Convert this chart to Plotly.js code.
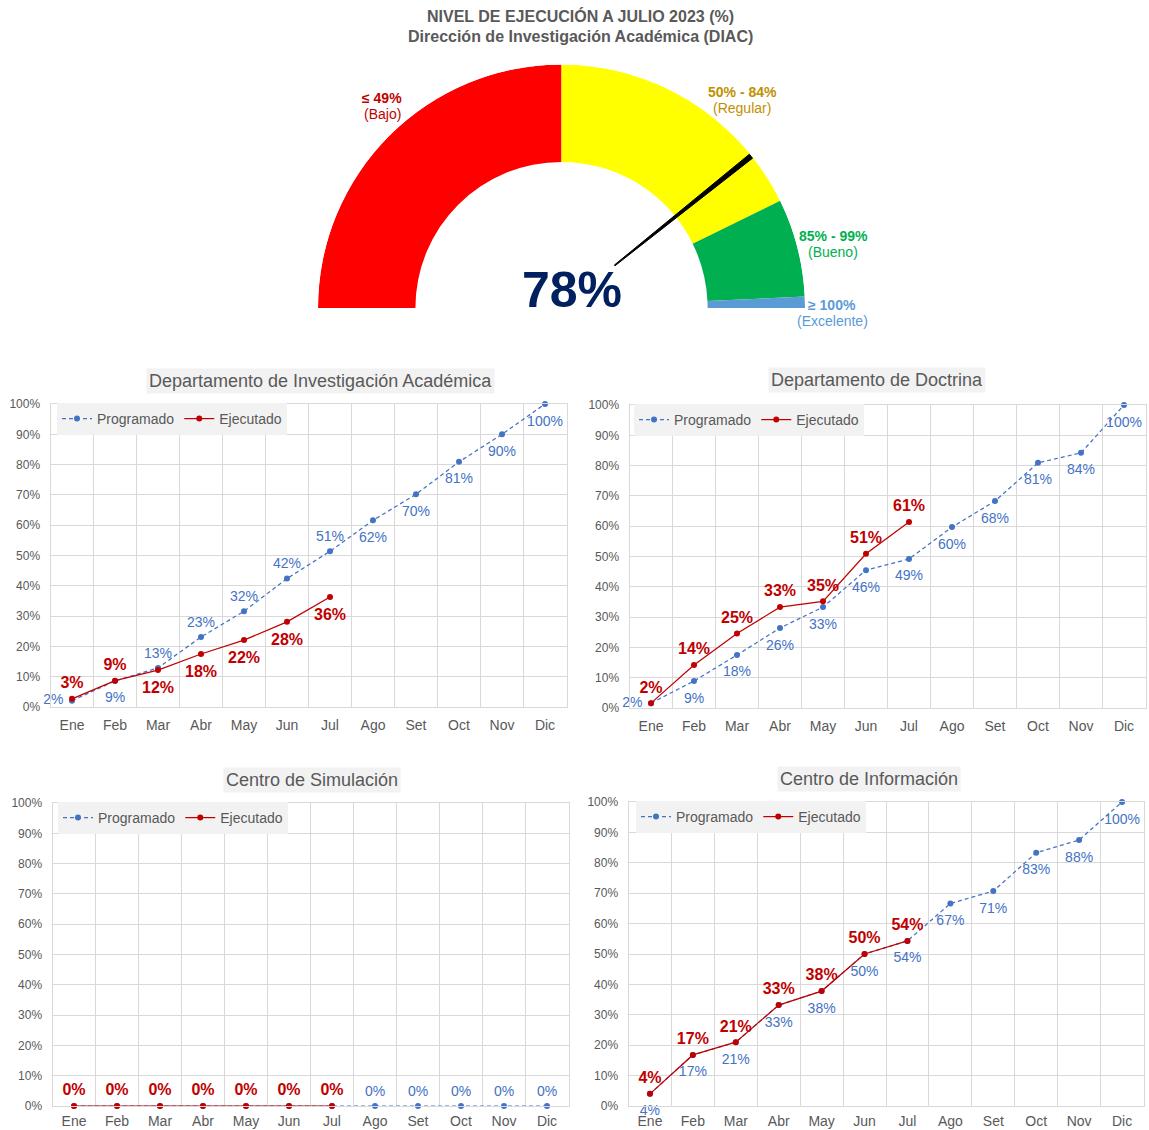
<!DOCTYPE html>
<html>
<head>
<meta charset="utf-8">
<script src="https://cdn.plot.ly/plotly-3.0.1.min.js"></script>
<style>html,body{margin:0;padding:0;background:#fff}#chart{width:1149px;height:1130px}</style>
</head>
<body>
<div id="chart"></div>
<script>
// ---------- DATA ----------
const months = ['Ene','Feb','Mar','Abr','May','Jun','Jul','Ago','Set','Oct','Nov','Dic'];

const gaugeValue = 78;
const bandEdges = [0, 50, 85.5, 98.5, 100];
const bandRanges = ['≤ 49%', '50% - 84%', '85% - 99%', '≥ 100%'];
const bandNames = ['(Bajo)', '(Regular)', '(Bueno)', '(Excelente)'];

const diaProg = [2.1, 8.6, 12.9, 23.1, 31.6, 42.4, 51.4, 61.6, 70.2, 80.9, 90.0, 100];
const diaEjec = [2.7, 8.7, 12.2, 17.5, 22.1, 28.1, 36.3];

const docProg = [1.6, 8.9, 17.5, 26.4, 33.3, 45.5, 49.2, 59.7, 68.3, 80.9, 84.2, 100];
const docEjec = [1.6, 14.2, 24.6, 33.3, 35.2, 50.9, 61.4];

const simProg = [0, 0, 0, 0, 0, 0, 0, 0, 0, 0, 0, 0];
const simEjec = [0, 0, 0, 0, 0, 0, 0];

const infProg = [4.0, 16.8, 21.0, 33.2, 37.8, 50.0, 54.3, 66.6, 70.7, 83.3, 87.5, 100];
const infEjec = [4.0, 16.8, 21.0, 33.2, 37.8, 50.0, 54.3];

const chartTitles = ['Departamento de Investigación Académica', 'Departamento de Doctrina',
                     'Centro de Simulación', 'Centro de Información'];

// ---------- STYLE ----------
const W = 1149, H = 1130;
const FONT = 'Liberation Sans, Arial, sans-serif';
const GRAY = '#595959', GRID = '#d9d9d9';
const BLUE = '#4472c4', RED = '#c00000';
const bandColors = ['#ff0000', '#ffff00', '#00b050', '#5b9bd5'];
const bandTextColors = ['#c00000', '#bf9000', '#00b050', '#5b9bd5'];
const needleWidth = 1;  // in % of the gauge
const px = x => x / W;
const py = y => 1 - y / H;

const B = 'bottom center', T = 'top center', L = 'middle left';
const charts = [
  {prog: diaProg, ejec: diaEjec, hideProg: 0,
   progPos: [L,B,T,T,T,T,T,B,B,B,B,B], ejecPos: [T,T,B,B,B,B,B]},
  {prog: docProg, ejec: docEjec, hideProg: 0,
   progPos: [L,B,B,B,B,B,B,B,B,B,B,B], ejecPos: [T,T,T,T,T,T,T]},
  {prog: simProg, ejec: simEjec, hideProg: 7,
   progPos: Array(12).fill(T), ejecPos: Array(7).fill(T)},
  {prog: infProg, ejec: infEjec, hideProg: 0,
   progPos: Array(12).fill(B), ejecPos: Array(7).fill(T)}
];
// invisible marker size used only to space the value labels from the points
const labelGap = pos => pos.startsWith('bottom') ? 16 : (pos.startsWith('middle') ? 12 : 9);

// plot-area pixel boxes [left, right, top, bottom]
const boxes = [[50.5, 566.5, 404, 707], [629.5, 1145.5, 405, 708],
               [52.5, 568.5, 803, 1106], [628.5, 1143.5, 802, 1106]];
const titlePos = [[320, 381], [877, 380], [312, 780], [869, 779]];
const legendPos = [[57, 403], [634, 404], [58, 802], [636, 801]];
const xStandoff = [5, 5, 2, 2];

const traces = [];
const layout = {
  width: W, height: H, margin: {l: 0, r: 0, t: 0, b: 0},
  paper_bgcolor: '#fff', plot_bgcolor: '#fff',
  font: {family: FONT, color: GRAY},
  annotations: [],
  polar: {
    domain: {x: [px(318), px(805)], y: [py(308), py(64.5)]},
    sector: [0, 180], hole: 0, bgcolor: 'rgba(0,0,0,0)',
    radialaxis: {visible: false, range: [0, 1]},
    angularaxis: {visible: false, direction: 'clockwise', rotation: 180}
  }
};

function note(text, x, y, font, extra) {
  layout.annotations.push(Object.assign({
    text: text, x: px(x), y: py(y), xref: 'paper', yref: 'paper',
    xanchor: 'center', yanchor: 'middle', showarrow: false, font: font
  }, extra || {}));
}

// ---------- GAUGE ----------
const toDeg = v => v * 1.8;
traces.push({
  type: 'barpolar', subplot: 'polar', showlegend: false, hoverinfo: 'skip',
  theta: bandRanges.map((_, i) => toDeg((bandEdges[i] + bandEdges[i + 1]) / 2)),
  width: bandRanges.map((_, i) => toDeg(bandEdges[i + 1] - bandEdges[i])),
  r: bandRanges.map(() => 0.4), base: bandRanges.map(() => 0.6),
  marker: {color: bandColors, line: {width: 0}}
});
const nt = toDeg(gaugeValue + needleWidth / 2);
traces.push({
  type: 'scatterpolar', subplot: 'polar', showlegend: false, hoverinfo: 'skip',
  mode: 'lines', fill: 'toself', fillcolor: '#000',
  r: [0.28, 0.997, 0.997, 0.28, 0.28],
  theta: [nt - 0.4, nt - 0.6, nt + 0.6, nt + 0.4, nt - 0.4],
  line: {color: '#000', width: 1}
});

note('<b>NIVEL DE EJECUCIÓN A JULIO 2023 (%)</b>', 580, 16, {size: 16, color: GRAY});
note('<b>Dirección de Investigación Académica (DIAC)</b>', 580, 36, {size: 16, color: GRAY});
note('<b>' + gaugeValue + '%</b>', 572, 290, {size: 50, color: '#002060'});
const bandLabelPos = [[382, 98], [742, 92], [833, 236.5], [832, 304.5]];
bandRanges.forEach((t, i) => {
  note('<b>' + t + '</b>', bandLabelPos[i][0], bandLabelPos[i][1], {size: 14, color: bandTextColors[i]});
  note(bandNames[i], bandLabelPos[i][0], bandLabelPos[i][1] + 16, {size: 14, color: bandTextColors[i]});
});

// ---------- LINE CHARTS ----------
charts.forEach((c, k) => {
  const n = k === 0 ? '' : String(k + 1);
  const xa = 'x' + n, ya = 'y' + n, lg = 'legend' + n;
  const b = boxes[k];
  layout['xaxis' + n] = {
    anchor: ya, domain: [px(b[0]), px(b[1])], type: 'category', range: [-0.5, 11.5],
    tickson: 'boundaries', showgrid: true, gridcolor: GRID, gridwidth: 1,
    showline: true, linecolor: GRID, mirror: true, ticks: '', zeroline: false,
    tickfont: {size: 14, color: GRAY}, ticklabelstandoff: xStandoff[k], fixedrange: true
  };
  layout['yaxis' + n] = {
    anchor: xa, domain: [py(b[3]), py(b[2])], range: [0, 100], dtick: 10, ticksuffix: '%',
    showgrid: true, gridcolor: GRID, gridwidth: 1, showline: true, linecolor: GRID, mirror: true,
    ticks: '', zeroline: false, tickfont: {size: 12, color: GRAY}, ticklabelstandoff: 7,
    fixedrange: true
  };
  layout[lg] = {
    x: px(legendPos[k][0]), y: py(legendPos[k][1]), xanchor: 'left', yanchor: 'top',
    orientation: 'h', bgcolor: '#f2f2f2', font: {size: 14, color: GRAY},
    traceorder: 'normal', itemwidth: 30, tracegroupgap: 0
  };
  const ejecX = months.slice(0, c.ejec.length);
  // lines + markers (legend entries)
  traces.push({
    type: 'scatter', mode: 'lines+markers', name: 'Programado', xaxis: xa, yaxis: ya, legend: lg,
    x: months, y: c.prog, cliponaxis: false, hoverinfo: 'skip',
    line: {color: BLUE, width: 1.25, dash: '4px,3px'}, marker: {color: BLUE, size: 6}
  });
  traces.push({
    type: 'scatter', mode: 'lines+markers', name: 'Ejecutado', xaxis: xa, yaxis: ya, legend: lg,
    x: ejecX, y: c.ejec, cliponaxis: false, hoverinfo: 'skip',
    line: {color: RED, width: 1.25}, marker: {color: RED, size: 6}
  });
  // value labels
  traces.push({
    type: 'scatter', mode: 'markers+text', showlegend: false, xaxis: xa, yaxis: ya,
    x: months, y: c.prog, hoverinfo: 'skip', cliponaxis: false,
    text: c.prog.map((v, i) => i < c.hideProg ? '' : Math.round(v) + '%'),
    textposition: c.progPos, textfont: {size: 14, color: BLUE},
    marker: {size: c.progPos.map(labelGap), opacity: 0, color: BLUE}
  });
  traces.push({
    type: 'scatter', mode: 'markers+text', showlegend: false, xaxis: xa, yaxis: ya,
    x: ejecX, y: c.ejec, hoverinfo: 'skip', cliponaxis: false,
    text: c.ejec.map(v => Math.round(v) + '%'),
    textposition: c.ejecPos, textfont: {size: 16, color: RED, weight: 'bold'},
    marker: {size: c.ejecPos.map(labelGap), opacity: 0, color: RED}
  });
  note(chartTitles[k], titlePos[k][0], titlePos[k][1], {size: 18, color: GRAY},
       {bgcolor: '#f2f2f2', borderpad: 2});
});

Plotly.newPlot('chart', traces, layout, {displayModeBar: false, staticPlot: true});
</script>
</body>
</html>
